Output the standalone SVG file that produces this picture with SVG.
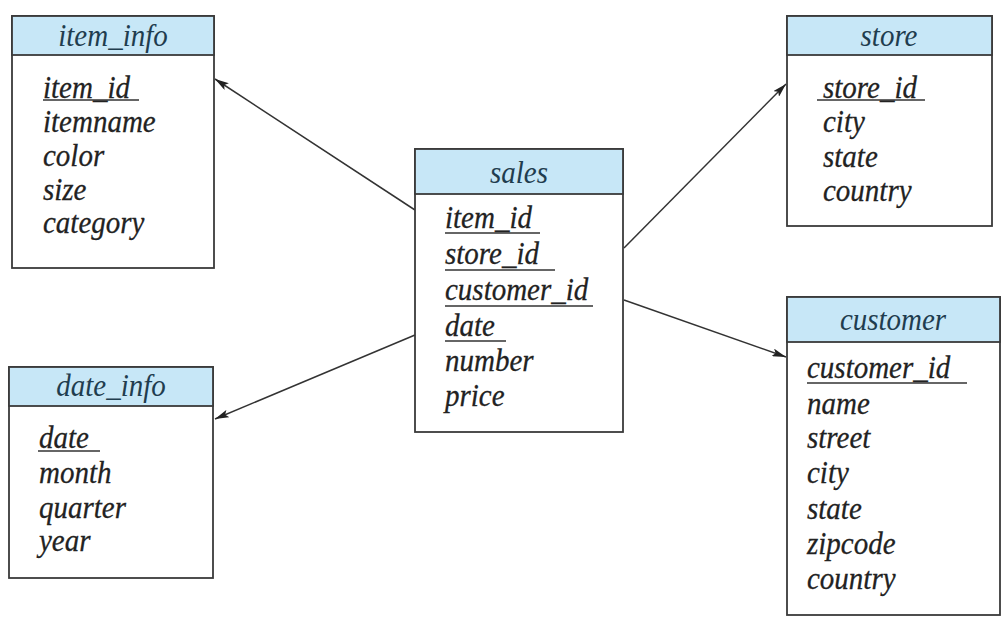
<svg xmlns="http://www.w3.org/2000/svg" width="1001" height="618" viewBox="0 0 1001 618">
<style>
.box{fill:#fff;stroke:#3a3a3a;stroke-width:1.8}
.hdr{fill:#c7e7f7;stroke:#3a3a3a;stroke-width:1.8}
.ht{font-family:"Liberation Serif",serif;font-style:italic;font-size:29px;fill:#1f3d4f;text-anchor:middle}
.t{font-family:"Liberation Serif",serif;font-style:italic;font-size:29px;fill:#222;stroke:#222;stroke-width:0.25}
.u{stroke:#333;stroke-width:1.6}
.c{stroke:#333;stroke-width:1.5;fill:none;marker-end:url(#ah)}
</style>
<defs>
<marker id="ah" viewBox="0 0 14 8" refX="14" refY="4" markerWidth="14" markerHeight="8" markerUnits="userSpaceOnUse" orient="auto">
<path d="M0,0 L14,4 L0,8 L3,4 z" fill="#222"/>
</marker>
</defs>
<rect width="1001" height="618" fill="#fff"/>
<g id="connectors">
<line class="c" x1="415" y1="210" x2="215" y2="79"/>
<line class="c" x1="415" y1="335" x2="215" y2="419"/>
<line class="c" x1="624" y1="248" x2="786" y2="84"/>
<line class="c" x1="624" y1="300" x2="786" y2="357"/>
</g>
<g id="item_info">
<rect class="box" x="12" y="16" width="202" height="252"/>
<rect class="hdr" x="12" y="16" width="202" height="39"/>
<text class="ht" transform="translate(113,46) scale(1,1.1)">item_info</text>
<text class="t" transform="translate(43,98) scale(1,1.1)">item_id</text>
<line class="u" x1="43" y1="100" x2="139" y2="100"/>
<text class="t" transform="translate(43,132) scale(1,1.1)">itemname</text>
<text class="t" transform="translate(43,166) scale(1,1.1)">color</text>
<text class="t" transform="translate(43,200) scale(1,1.1)">size</text>
<text class="t" transform="translate(43,233) scale(1,1.1)">category</text>
</g>
<g id="sales">
<rect class="box" x="415" y="149" width="208" height="283"/>
<rect class="hdr" x="415" y="149" width="208" height="45"/>
<text class="ht" transform="translate(519,183) scale(1,1.1)">sales</text>
<text class="t" transform="translate(445,228) scale(1,1.1)">item_id</text>
<line class="u" x1="445" y1="233" x2="540" y2="233"/>
<text class="t" transform="translate(445,264) scale(1,1.1)">store_id</text>
<line class="u" x1="445" y1="270" x2="555" y2="270"/>
<text class="t" transform="translate(445,300) scale(1,1.1)">customer_id</text>
<line class="u" x1="445" y1="306" x2="593" y2="306"/>
<text class="t" transform="translate(445,336) scale(1,1.1)">date</text>
<line class="u" x1="445" y1="341" x2="506" y2="341"/>
<text class="t" transform="translate(445,371) scale(1,1.1)">number</text>
<text class="t" transform="translate(445,406) scale(1,1.1)">price</text>
</g>
<g id="store">
<rect class="box" x="787" y="16" width="205" height="210"/>
<rect class="hdr" x="787" y="16" width="205" height="39"/>
<text class="ht" transform="translate(889,46) scale(1,1.1)">store</text>
<text class="t" transform="translate(823,98) scale(1,1.1)">store_id</text>
<line class="u" x1="817" y1="100" x2="925" y2="100"/>
<text class="t" transform="translate(823,132) scale(1,1.1)">city</text>
<text class="t" transform="translate(823,167) scale(1,1.1)">state</text>
<text class="t" transform="translate(823,201) scale(1,1.1)">country</text>
</g>
<g id="date_info">
<rect class="box" x="9" y="367" width="204" height="211"/>
<rect class="hdr" x="9" y="367" width="204" height="39"/>
<text class="ht" transform="translate(111,396) scale(1,1.1)">date_info</text>
<text class="t" transform="translate(39,448) scale(1,1.1)">date</text>
<line class="u" x1="38" y1="451" x2="100" y2="451"/>
<text class="t" transform="translate(39,483) scale(1,1.1)">month</text>
<text class="t" transform="translate(39,518) scale(1,1.1)">quarter</text>
<text class="t" transform="translate(39,551) scale(1,1.1)">year</text>
</g>
<g id="customer">
<rect class="box" x="787" y="297" width="213" height="318"/>
<rect class="hdr" x="787" y="297" width="213" height="45"/>
<text class="ht" transform="translate(893,330) scale(1,1.1)">customer</text>
<text class="t" transform="translate(807,378) scale(1,1.1)">customer_id</text>
<line class="u" x1="807" y1="383" x2="967" y2="383"/>
<text class="t" transform="translate(807,414) scale(1,1.1)">name</text>
<text class="t" transform="translate(807,448) scale(1,1.1)">street</text>
<text class="t" transform="translate(807,483) scale(1,1.1)">city</text>
<text class="t" transform="translate(807,519) scale(1,1.1)">state</text>
<text class="t" transform="translate(807,554) scale(1,1.1)">zipcode</text>
<text class="t" transform="translate(807,589) scale(1,1.1)">country</text>
</g>
</svg>
